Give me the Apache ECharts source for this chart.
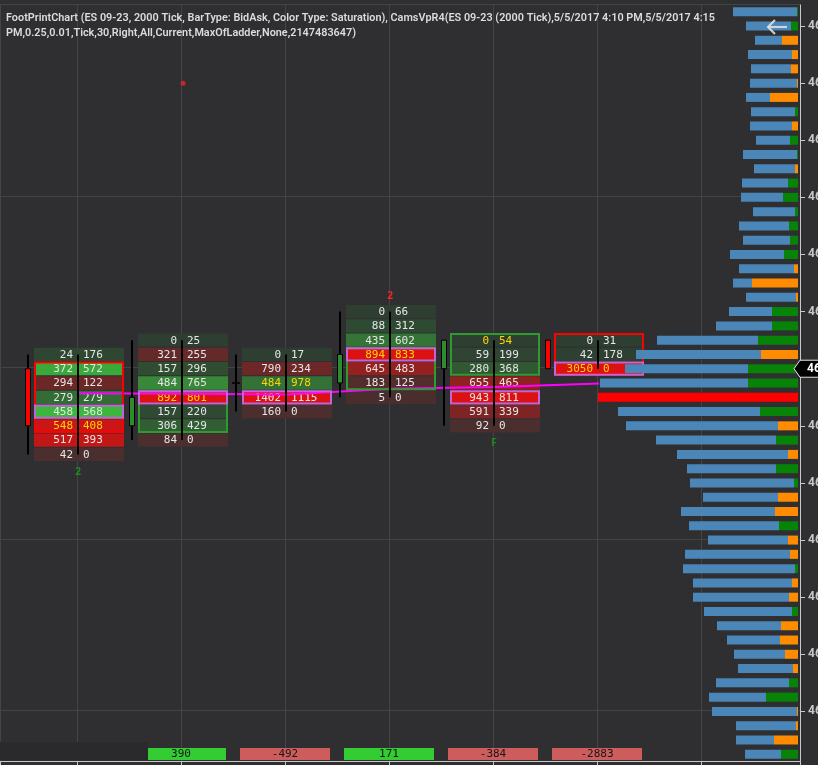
<!DOCTYPE html>
<html>
<head>
<meta charset="utf-8">
<script src="https://cdn.jsdelivr.net/npm/echarts@6.0.0/dist/echarts.min.js"></script>
<style>
html,body{margin:0;padding:0;background:#2f2f31;overflow:hidden}
#chart{width:818px;height:765px}
</style>
</head>
<body>
<div id="chart"></div>
<script>
// ---------------- data ----------------
const tickSize = 0.25;
const ladderTop = 4624.25;
const ladderRows = 53;
const barX = [1, 2, 3, 4, 5, 6];
const barOpen  = [4618.00, 4617.00, 4617.75, 4617.75, 4618.00, 4618.50];
const barHigh  = [4618.25, 4618.50, 4618.25, 4619.00, 4618.50, 4618.50];
const barLow   = [4616.50, 4616.75, 4617.25, 4617.50, 4617.00, 4618.00];
const barClose = [4617.00, 4617.50, 4617.75, 4618.25, 4618.50, 4618.00];
const bidVol = [
  [24, 372, 294, 279, 458, 548, 517, 42],
  [0, 321, 157, 484, 892, 157, 306, 84],
  [0, 790, 484, 1402, 160],
  [0, 88, 435, 894, 645, 183, 5],
  [0, 59, 280, 655, 943, 591, 92],
  [0, 42, 3050]
];
const askVol = [
  [176, 572, 122, 279, 568, 408, 393, 0],
  [25, 255, 296, 765, 801, 220, 429, 0],
  [17, 234, 978, 1115, 0],
  [66, 312, 602, 833, 483, 125, 0],
  [54, 199, 368, 465, 811, 339, 0],
  [31, 178, 0]
];
const vwap = [4617.57, 4617.56, 4617.55, 4617.65, 4617.68, 4617.74];
const signalBar = [1, 4, 5];
const signalText = ['2', '2', 'F'];
const signalSide = ['below', 'above', 'below'];
const dotBar = [2];
const dotPrice = [4623.00];
const profileTotal = [
  2275,1820,1505,1750,1645,1680,1820,1645,1680,1470,
  1925,1540,1960,1995,1575,2065,1925,2380,2065,2275,
  1820,2415,2870,4935,5670,6055,6930,7000,6300,6020,
  4970,4235,3885,3780,3325,4095,3815,3150,3955,4025,
  3675,3675,3290,2835,2485,2240,2100,2870,3115,3010,
  2170,2170,1855
];
const profileDelta = [
  35,245,-560,-210,-245,-35,-980,105,-210,280,
  35,-105,350,525,105,315,280,490,-140,-1610,
  -70,910,910,1400,-1295,1750,1750,0,1330,-700,
  770,-350,770,140,-700,-805,665,-350,-280,105,
  -210,-315,210,-595,-630,-455,-175,315,1120,-35,
  -70,-840,595
];
const gridPrices = [4621, 4618, 4615, 4612];
const lastPrice = 4618.00;
const titleLines = [
  'FootPrintChart (ES 09-23, 2000 Tick, BarType: BidAsk, Color Type: Saturation), CamsVpR4(ES 09-23 (2000 Tick),5/5/2017 4:10 PM,5/5/2017 4:15',
  'PM,0.25,0.01,Tick,30,Right,All,Current,MaxOfLadder,None,2147483647)'
];

// ---------------- derived ----------------
const ladderPrices = [];
for (let i = 0; i < ladderRows; i++) ladderPrices.push(ladderTop - i * tickSize);
const ladderLabels = ladderPrices.map(p => p.toFixed(2));
const ladderBottom = ladderPrices[ladderPrices.length - 1];

const X_MIN = 1 - 77 / 104;
const X_MAX = 1 + 723 / 104;

const cellData = [];
const boxData = [];
const candleData = [];
const deltaData = [];
barX.forEach((x, b) => {
  const vols = bidVol[b].map((v, k) => v + askVol[b][k]);
  const maxV = Math.max(...vols);
  const pocK = vols.indexOf(maxV);
  bidVol[b].forEach((bid, k) => {
    const p = barHigh[b] - k * tickSize;
    cellData.push([x, p, bid, askVol[b][k], vols[k] / maxV, Math.abs(p - barClose[b]) < 1e-9 ? 1 : 0]);
  });
  boxData.push([x, barOpen[b], barClose[b], barHigh[b] - pocK * tickSize]);
  candleData.push([x, barOpen[b], barHigh[b], barLow[b], barClose[b]]);
  const d = askVol[b].reduce((a, v) => a + v, 0) - bidVol[b].reduce((a, v) => a + v, 0);
  deltaData.push([x, d]);
});
const signalData = signalBar.map((bi, i) => {
  const b = barX.indexOf(bi);
  return [bi, signalSide[i] === 'below' ? barLow[b] : barHigh[b], i];
});

const pocRow = profileTotal.indexOf(Math.max(...profileTotal));
const segData = profileTotal.map((t, i) => ({
  value: i === pocRow ? t : Math.abs(profileDelta[i]),
  itemStyle: { color: i === pocRow ? '#ff0000' : (profileDelta[i] >= 0 ? '#078407' : '#ff8c00') }
}));
const blueData = profileTotal.map((t, i) => i === pocRow ? 0 : t - Math.abs(profileDelta[i]));

// ---------------- helpers ----------------
function mix(a, b, t) { return 'rgb(' + a.map((v, i) => Math.round(v + (b[i] - v) * t)).join(',') + ')'; }
function cellColor(pos, ratio) {
  const s = Math.pow(ratio, 1.6);
  return pos ? mix([46, 62, 49], [60, 183, 60], s) : mix([74, 46, 46], [220, 18, 18], s);
}
function txt(x, y, text, align, fill, font, va) {
  return { type: 'text', style: { x, y, text, align, textAlign: align, verticalAlign: va || 'middle', textVerticalAlign: va || 'middle', fill, font } };
}
const MONO = '11px "DejaVu Sans Mono", monospace';

const measureCtx = document.createElement('canvas').getContext('2d');
const TITLE_FONT = '600 11.5px Roboto, "Noto Sans", sans-serif';
measureCtx.font = TITLE_FONT;
const titleScale = 709 / measureCtx.measureText(titleLines[0]).width;

// ---------------- chart ----------------
const chart = echarts.init(document.getElementById('chart'), null, { renderer: 'canvas' });
const gridBox = { top: 4.6, bottom: 3.6 };
const option = {
  backgroundColor: '#2f2f31',
  animation: false,
  grid: [
    { left: 0, right: 18, top: gridBox.top, bottom: gridBox.bottom, containLabel: false, outerBoundsMode: 'none' },
    { left: 398, right: 20, top: gridBox.top, bottom: gridBox.bottom, containLabel: false, outerBoundsMode: 'none' }
  ],
  xAxis: [
    { type: 'value', gridIndex: 0, min: X_MIN, max: X_MAX, splitNumber: 8, position: 'bottom',
      axisLine: { show: true, lineStyle: { color: '#c8c8c8', width: 1 } },
      axisTick: { show: true, length: 4, lineStyle: { color: '#c8c8c8' } },
      axisLabel: { show: false },
      splitLine: { show: true, lineStyle: { color: '#444446', width: 1 } } },
    { type: 'value', gridIndex: 0, min: X_MIN, max: X_MAX, position: 'top',
      axisLine: { show: true, lineStyle: { color: '#444446', width: 1 } },
      axisTick: { show: false }, axisLabel: { show: false }, splitLine: { show: false } },
    { type: 'value', gridIndex: 1, inverse: true, min: 0, max: 14000, show: false }
  ],
  yAxis: [
    { type: 'category', gridIndex: 0, data: ladderLabels, inverse: true, position: 'right',
      axisLine: { show: true, lineStyle: { color: '#c8c8c8', width: 1 } },
      axisTick: { show: true, alignWithLabel: true, length: 5, interval: (i, v) => parseFloat(v) % 1 === 0, lineStyle: { color: '#c8c8c8' } },
      axisLabel: { interval: (i, v) => parseFloat(v) % 1 === 0, color: '#c8c8c8', fontWeight: 'bold', fontSize: 12, margin: 8, fontFamily: 'Roboto, "Noto Sans", sans-serif' },
      splitLine: { show: false } },
    { type: 'value', gridIndex: 0, min: ladderBottom - tickSize / 2, max: ladderTop + tickSize / 2, show: false },
    { type: 'category', gridIndex: 1, data: ladderLabels, inverse: true, show: false }
  ],
  series: [
    // horizontal grid lines
    { type: 'custom', xAxisIndex: 0, yAxisIndex: 1, z: 1, silent: true,
      data: gridPrices.map(p => [X_MIN, p]),
      renderItem: (params, api) => {
        const c = api.coord([api.value(0), api.value(1)]);
        const cs = params.coordSys;
        const y = Math.floor(c[1]) - 0.5;
        return { type: 'line', shape: { x1: cs.x, y1: y, x2: cs.x + cs.width, y2: y }, style: { stroke: '#444446', lineWidth: 1 } };
      } },
    // footprint cells
    { type: 'custom', xAxisIndex: 0, yAxisIndex: 1, z: 2, silent: true, clip: false,
      data: cellData,
      renderItem: (params, api) => {
        const c = api.coord([api.value(0), api.value(1)]);
        const rowH = api.size([0, tickSize])[1];
        const cx = c[0] + 1;
        const bid = api.value(2), ask = api.value(3), ratio = api.value(4), isClose = api.value(5);
        const tc = isClose ? '#ffd700' : '#e6e6e6';
        return { type: 'group', children: [
          { type: 'rect', shape: { x: cx - 44, y: c[1] - rowH / 2 + 0.5, width: 90, height: rowH - 1 }, style: { fill: cellColor(ask >= bid, ratio) } },
          txt(cx - 5, c[1] + 0.5, String(bid), 'right', tc, MONO),
          txt(cx + 5, c[1] + 0.5, String(ask), 'left', tc, MONO)
        ] };
      } },
    // VWAP
    { type: 'line', xAxisIndex: 0, yAxisIndex: 1, z: 3, silent: true, showSymbol: false, symbol: 'none',
      data: barX.map((x, i) => [x + 0.02, vwap[i]]),
      lineStyle: { color: '#ff00ff', width: 2 } },
    // body boxes + POC boxes
    { type: 'custom', xAxisIndex: 0, yAxisIndex: 1, z: 4, silent: true, clip: false,
      data: boxData,
      renderItem: (params, api) => {
        const x = api.value(0), o = api.value(1), cl = api.value(2), poc = api.value(3);
        const rowH = api.size([0, tickSize])[1];
        const cx = api.coord([x, poc])[0] + 1;
        const ch = [];
        if (o !== cl) {
          const yT = api.coord([x, Math.max(o, cl)])[1] - rowH / 2;
          const yB = api.coord([x, Math.min(o, cl)])[1] + rowH / 2;
          ch.push({ type: 'rect', shape: { x: cx - 43, y: yT + 1, width: 88, height: yB - yT - 2 }, style: { fill: 'none', stroke: cl > o ? '#2f9a2f' : '#ff0000', lineWidth: 2 } });
        }
        const yp = api.coord([x, poc])[1];
        ch.push({ type: 'rect', shape: { x: cx - 43, y: yp - rowH / 2 + 1, width: 88, height: rowH - 2 }, style: { fill: 'none', stroke: '#c264d6', lineWidth: 2 } });
        return { type: 'group', children: ch };
      } },
    // candles + range lines
    { type: 'custom', xAxisIndex: 0, yAxisIndex: 1, z: 4, silent: true, clip: false,
      data: candleData,
      renderItem: (params, api) => {
        const x = api.value(0), o = api.value(1), h = api.value(2), l = api.value(3), cl = api.value(4);
        const cx = api.coord([x, h])[0] + 1;
        const yH = api.coord([x, h])[1], yL = api.coord([x, l])[1];
        const yO = api.coord([x, o])[1], yC = api.coord([x, cl])[1];
        const kx = cx - 50;
        const ch = [
          { type: 'line', shape: { x1: cx, y1: yH, x2: cx, y2: yL }, style: { stroke: '#000', lineWidth: 2 } },
          { type: 'line', shape: { x1: kx, y1: yH, x2: kx, y2: yL }, style: { stroke: '#000', lineWidth: 2 } }
        ];
        if (o === cl) {
          ch.push({ type: 'line', shape: { x1: kx - 4, y1: yO, x2: kx + 4, y2: yO }, style: { stroke: '#000', lineWidth: 1.5 } });
        } else {
          ch.push({ type: 'rect', shape: { x: kx - 2.5, y: Math.min(yO, yC), width: 5, height: Math.abs(yO - yC) },
            style: { fill: cl > o ? '#2d8c2d' : '#ff0000', stroke: '#000', lineWidth: 1 } });
        }
        return { type: 'group', children: ch };
      } },
    // signals
    { type: 'custom', xAxisIndex: 0, yAxisIndex: 1, z: 4, silent: true, clip: false,
      data: signalData,
      renderItem: (params, api) => {
        const i = api.value(2);
        const c = api.coord([api.value(0), api.value(1)]);
        const below = signalSide[i] === 'below';
        return txt(c[0] + 1, c[1] + (below ? 17.5 : -15.5), signalText[i], 'center', below ? '#1e8a1e' : '#ff2020', 'bold 10px "Noto Sans", sans-serif');
      } },
    // dot
    { type: 'scatter', xAxisIndex: 0, yAxisIndex: 1, z: 4, silent: true, symbolSize: 5, symbolOffset: [2, 0],
      itemStyle: { color: '#e8242a' }, data: dotBar.map((b, i) => [b, dotPrice[i]]) },
    // delta boxes
    { type: 'custom', xAxisIndex: 0, yAxisIndex: 1, z: 4, silent: true, clip: false,
      data: deltaData,
      renderItem: (params, api) => {
        const d = api.value(1);
        const cx = api.coord([api.value(0), ladderBottom])[0] + 1;
        const cs = params.coordSys;
        const bot = cs.y + cs.height;
        return { type: 'group', children: [
          { type: 'rect', shape: { x: cx - 46, y: bot - 13.4, width: 90, height: 12 }, style: { fill: d > 0 ? '#33cc33' : '#cd5c5c' } },
          txt(cx - 1, bot - 7, String(d), 'center', '#161616', MONO)
        ] };
      } },
    // volume profile
    { type: 'bar', xAxisIndex: 2, yAxisIndex: 2, stack: 'p', barWidth: 9, z: 5, silent: true, data: segData },
    { type: 'bar', xAxisIndex: 2, yAxisIndex: 2, stack: 'p', barWidth: 9, z: 5, silent: true, itemStyle: { color: '#4a86b8' }, data: blueData },
    // last price marker
    { type: 'custom', xAxisIndex: 0, yAxisIndex: 1, z: 10, silent: true, clip: false,
      data: [[X_MAX, lastPrice]],
      renderItem: (params, api) => {
        const c = api.coord([api.value(0), api.value(1)]);
        const x = c[0], y = c[1];
        return { type: 'group', children: [
          { type: 'polygon', shape: { points: [[x - 6, y], [x, y - 8.5], [x + 40, y - 8.5], [x + 40, y + 8.5], [x, y + 8.5]] },
            style: { fill: '#000', stroke: '#e8e8e8', lineWidth: 1 } },
          txt(x + 7, y + 0.5, lastPrice.toFixed(2), 'left', '#ffffff', 'bold 12px Roboto, "Noto Sans", sans-serif')
        ] };
      } }
  ],
  graphic: [
    { type: 'rect', z: 50, silent: true, shape: { x: 0, y: 742, width: 148, height: 18.4 }, style: { fill: '#2a2a2c' } },
    { type: 'line', z: 60, silent: true, shape: { x1: 768, y1: 27, x2: 787, y2: 27 }, style: { stroke: '#dedede', lineWidth: 2.2, opacity: 0.9 } },
    { type: 'polyline', z: 60, silent: true, shape: { points: [[775, 20], [768, 27], [775, 34]] }, style: { stroke: '#dedede', lineWidth: 2.2, fill: null, opacity: 0.9 } },
    { type: 'text', z: 50, silent: true, x: 6, y: 18.5, scaleX: titleScale,
      style: { text: titleLines[0], font: TITLE_FONT, fill: '#dcdcdc', verticalAlign: 'middle', textVerticalAlign: 'middle' } },
    { type: 'text', z: 50, silent: true, x: 6, y: 33, scaleX: titleScale,
      style: { text: titleLines[1], font: TITLE_FONT, fill: '#dcdcdc', verticalAlign: 'middle', textVerticalAlign: 'middle' } }
  ]
};
chart.setOption(option);
</script>
</body>
</html>
